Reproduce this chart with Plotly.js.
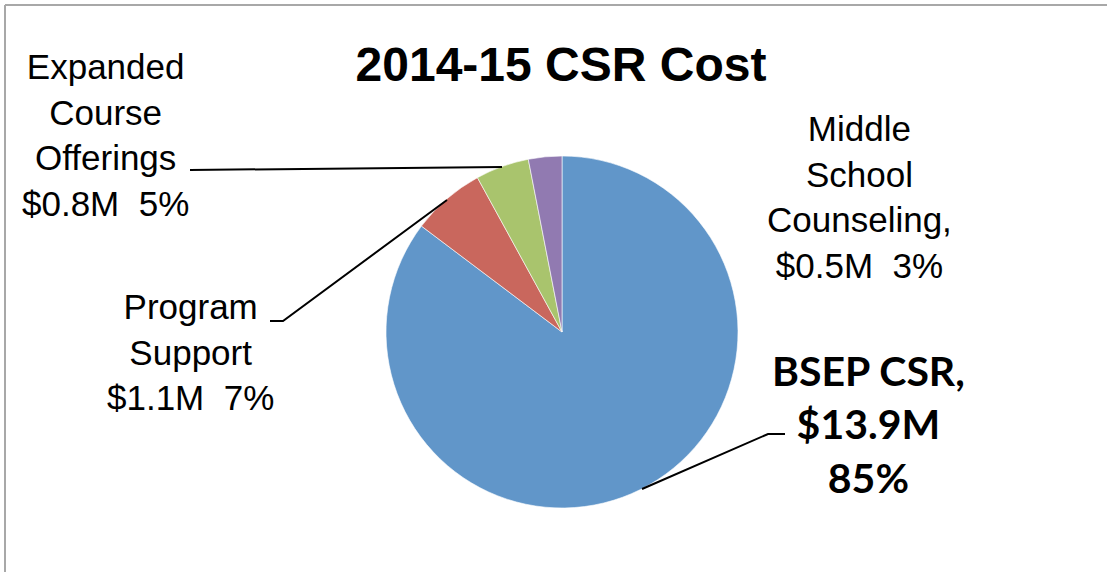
<!DOCTYPE html>
<html>
<head>
<meta charset="utf-8">
<script src="https://cdn.plot.ly/plotly-3.0.1.min.js"></script>
<style>
  html, body { margin: 0; padding: 0; background: #fff; }
  #chart { width: 1107px; height: 572px; }
</style>
</head>
<body>
<div id="chart"></div>
<script>
// ---- data ----
const categories = ["BSEP CSR", "Program Support", "Expanded Course Offerings", "Middle School Counseling"];
const costsM = [13.9, 1.1, 0.8, 0.5];
const percents = [85, 7, 5, 3];
const sliceColors = ["#6196C9", "#C9675D", "#A9C46D", "#917AB1"];
const labelLines = [
  ["BSEP CSR,", "$13.9M", "85%"],
  ["Program", "Support", "$1.1M  7%"],
  ["Expanded", "Course", "Offerings", "$0.8M  5%"],
  ["Middle", "School", "Counseling,", "$0.5M  3%"]
];
const chartTitle = "2014-15 CSR Cost";

// ---- layout helpers (pixel -> paper) ----
const W = 1107, H = 572;
const px = x => x / W;
const py = y => 1 - y / H;

// pie placement (center 562,332 radius 176)
const cx = 562, cy = 332, r = 176;

const trace = {
  type: "pie",
  labels: categories,
  values: costsM,
  sort: false,
  direction: "clockwise",
  rotation: 0,
  marker: { colors: sliceColors, line: { color: "#ffffff", width: 0.6 } },
  textinfo: "none",
  hoverinfo: "none",
  showlegend: false,
  domain: { x: [px(cx - r), px(cx + r)], y: [py(cy + r), py(cy - r)] }
};

const armFont = { family: "'Liberation Sans', Arial, sans-serif", size: 35, color: "#000" };
// label positions (pixel centers)
const labelPos = [
  { x: 868, y: 424, font: { family: "Lato, 'Open Sans', sans-serif", size: 41, color: "#000", weight: 700 } },
  { x: 190, y: 352, font: armFont },
  { x: 105, y: 135, font: armFont },
  { x: 859, y: 197, font: armFont }
];

const annotations = labelLines.map((lines, i) => ({
  text: lines.join("<br>"),
  x: px(labelPos[i].x), y: py(labelPos[i].y),
  xref: "paper", yref: "paper",
  xanchor: "center", yanchor: "middle",
  align: "center",
  showarrow: false,
  font: labelPos[i].font
}));

function path(points) {
  return points.map((p, i) => (i === 0 ? "M" : "L") + px(p[0]) + "," + py(p[1])).join(" ");
}

const lineStyle = { color: "#000", width: 2 };
const shapes = [
  // chart frame (top & left edges visible)
  { type: "line", xref: "paper", yref: "paper", x0: px(5), y0: py(5), x1: 1, y1: py(5), line: { color: "#A8A8A8", width: 2 } },
  { type: "line", xref: "paper", yref: "paper", x0: px(5), y0: py(5), x1: px(5), y1: 0, line: { color: "#A8A8A8", width: 2 } },
  // leader lines
  { type: "path", xref: "paper", yref: "paper", path: path([[190, 170], [502, 167]]), line: lineStyle },
  { type: "path", xref: "paper", yref: "paper", path: path([[270, 321], [283, 321], [447, 200]]), line: lineStyle },
  { type: "path", xref: "paper", yref: "paper", path: path([[642, 489], [768, 434], [785, 434]]), line: lineStyle }
];

const layout = {
  width: W, height: H,
  margin: { l: 0, r: 0, t: 0, b: 0 },
  paper_bgcolor: "#ffffff",
  plot_bgcolor: "#ffffff",
  title: {
    text: chartTitle,
    x: px(561), y: py(64),
    xref: "paper", yref: "paper",
    xanchor: "center", yanchor: "middle",
    font: { family: "'Liberation Sans', Arial, sans-serif", size: 48, color: "#000", weight: 700 }
  },
  annotations: annotations,
  shapes: shapes
};

Plotly.newPlot("chart", [trace], layout, { staticPlot: true, displayModeBar: false });
</script>
</body>
</html>
